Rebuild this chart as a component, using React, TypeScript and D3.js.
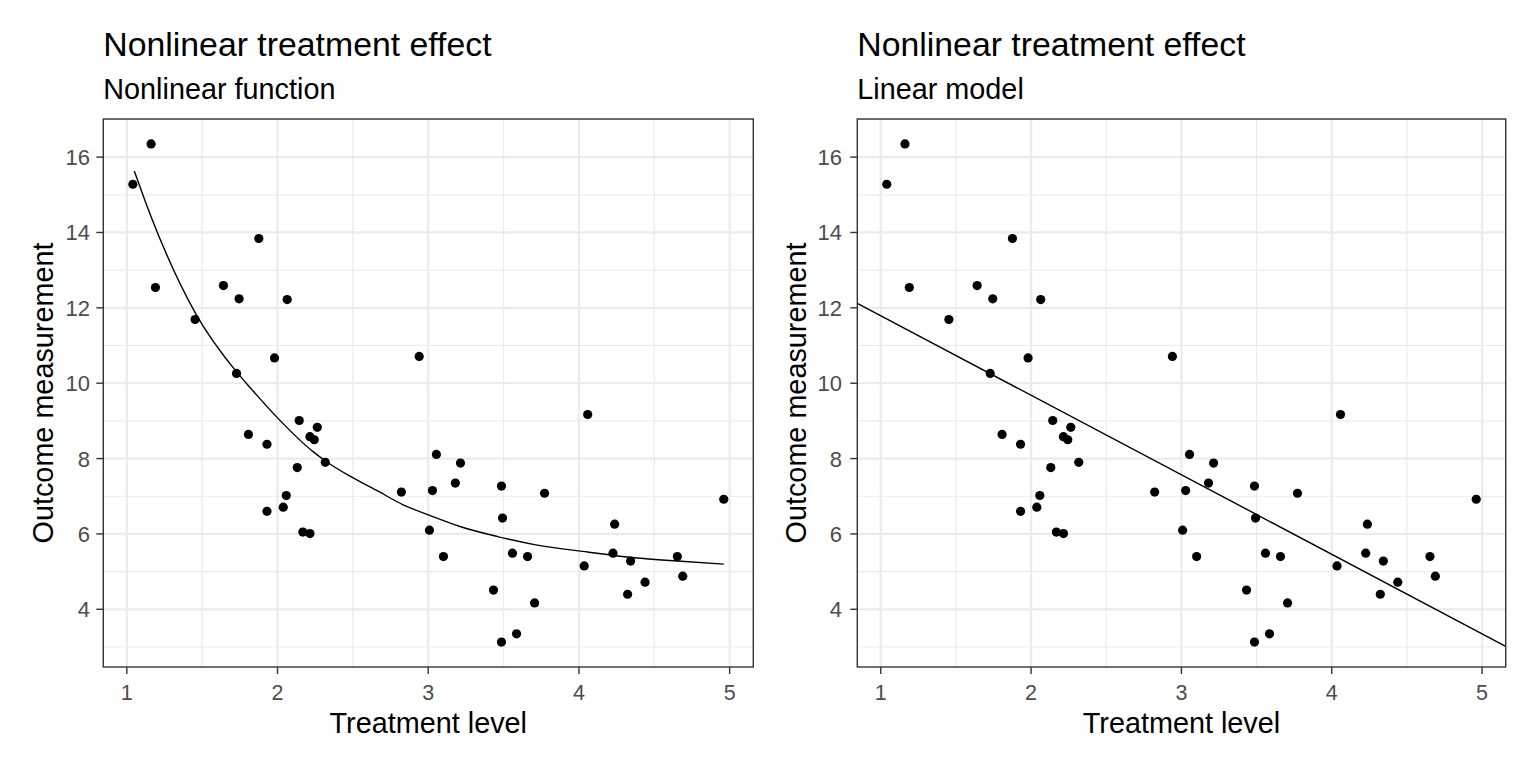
import React from "react";
import * as d3 from "d3";

// ---- Data ----
const treatment = [
  1.04, 1.161, 1.19, 1.453, 1.641, 1.728, 1.745, 1.807, 1.876, 1.93,
  1.93, 1.98, 2.038, 2.058, 2.064, 2.131, 2.144, 2.168, 2.215, 2.215,
  2.244, 2.264, 2.317, 2.822, 2.94, 3.008, 3.028, 3.054, 3.101, 3.18,
  3.214, 3.433, 3.486, 3.493, 3.486, 3.559, 3.586, 3.659, 3.706, 3.772,
  4.035, 4.058, 4.226, 4.237, 4.323, 4.343, 4.439, 4.653, 4.689, 4.961,
];
const outcome = [
  15.28, 16.35, 12.54, 11.69, 12.59, 10.26, 12.24, 8.64, 13.84, 8.38,
  6.6, 10.67, 6.71, 7.02, 12.22, 7.76, 9.01, 6.05, 6.01, 8.58,
  8.5, 8.83, 7.9, 7.11, 10.71, 6.1, 7.15, 8.11, 5.4, 7.35,
  7.88, 4.51, 7.27, 6.42, 3.13, 5.49, 3.35, 5.4, 4.17, 7.08,
  5.15, 9.17, 5.49, 6.26, 4.4, 5.28, 4.72, 5.4, 4.88, 6.92,
];

// Nonlinear fitted curve, read at several x positions
const curveX = [1.05, 1.161, 1.455, 1.728, 1.83, 2.0, 2.24, 2.32, 2.496, 2.673, 2.83, 3.005, 3.216, 3.46, 3.714, 4.058, 4.367, 4.655, 4.961];
const curveY = [15.63, 14.42, 11.86, 10.3, 9.83, 9.08, 8.17, 7.93, 7.5, 7.12, 6.78, 6.5, 6.19, 5.93, 5.71, 5.52, 5.37, 5.28, 5.2];

// Linear model coefficients
const lmIntercept = 13.9;
const lmSlope = -2.11;

const xTicks = [1, 2, 3, 4, 5];
const yTicks = [4, 6, 8, 10, 12, 14, 16];

const titles = ["Nonlinear treatment effect", "Nonlinear treatment effect"];
const subtitles = ["Nonlinear function", "Linear model"];
const xLabel = "Treatment level";
const yLabel = "Outcome measurement";

const FONT = "'Liberation Sans', Arial, Helvetica, sans-serif";

function expand(ext: [number, number], m = 0.05): [number, number] {
  const r = ext[1] - ext[0];
  return [ext[0] - r * m, ext[1] + r * m];
}

type PanelProps = {
  x0: number;
  x1: number;
  y0: number;
  y1: number;
  idx: number;
  labelEnd: number;
  yTitleX: number;
  kind: "curve" | "linear";
};

function Panel({ x0, x1, y0, y1, idx, labelEnd, yTitleX, kind }: PanelProps) {
  const xDom = expand(d3.extent(treatment) as [number, number]);
  const yDom = expand(d3.extent(outcome) as [number, number]);
  const x = d3.scaleLinear().domain(xDom).range([x0, x1]);
  const y = d3.scaleLinear().domain(yDom).range([y1, y0]);

  const xMinor = d3.range(0.5, 6, 1).filter((v) => v > xDom[0] && v < xDom[1]);
  const yMinor = d3.range(1, 19, 2).filter((v) => v > yDom[0] && v < yDom[1]);

  const clipId = `clip${idx}`;
  let pathD = "";
  if (kind === "curve") {
    const pts = curveX.map((cx, i) => [cx, curveY[i]] as [number, number]);
    pathD =
      d3
        .line<[number, number]>()
        .x((d) => x(d[0]))
        .y((d) => y(d[1]))
        .curve(d3.curveMonotoneX)(pts) || "";
  } else {
    const pts = xDom.map((v) => [v, lmIntercept + lmSlope * v] as [number, number]);
    pathD =
      d3
        .line<[number, number]>()
        .x((d) => x(d[0]))
        .y((d) => y(d[1]))(pts) || "";
  }

  const cx = (x0 + x1) / 2;
  const cy = (y0 + y1) / 2;

  return (
    <g>
      <defs>
        <clipPath id={clipId}>
          <rect x={x0} y={y0} width={x1 - x0} height={y1 - y0} />
        </clipPath>
      </defs>
      <rect x={x0} y={y0} width={x1 - x0} height={y1 - y0} fill="#FFFFFF" />
      <g clipPath={`url(#${clipId})`}>
        {xMinor.map((v) => (
          <line key={"xm" + v} x1={x(v)} x2={x(v)} y1={y0} y2={y1} stroke="#EBEBEB" strokeWidth={1.2} />
        ))}
        {yMinor.map((v) => (
          <line key={"ym" + v} x1={x0} x2={x1} y1={y(v)} y2={y(v)} stroke="#EBEBEB" strokeWidth={1.2} />
        ))}
        {xTicks.map((v) => (
          <line key={"xM" + v} x1={x(v)} x2={x(v)} y1={y0} y2={y1} stroke="#EBEBEB" strokeWidth={2.2} />
        ))}
        {yTicks.map((v) => (
          <line key={"yM" + v} x1={x0} x2={x1} y1={y(v)} y2={y(v)} stroke="#EBEBEB" strokeWidth={2.2} />
        ))}
        {treatment.map((t, i) => (
          <circle key={"p" + i} cx={x(t)} cy={y(outcome[i])} r={4.6} fill="#000000" />
        ))}
        <path d={pathD} fill="none" stroke="#000000" strokeWidth={1.4} />
      </g>
      <rect x={x0} y={y0} width={x1 - x0} height={y1 - y0} fill="none" stroke="#333333" strokeWidth={1.4} />
      {/* x ticks */}
      {xTicks.map((v) => (
        <g key={"xt" + v}>
          <line x1={x(v)} x2={x(v)} y1={y1} y2={y1 + 7} stroke="#333333" strokeWidth={1.4} />
          <text x={x(v)} y={y1 + 33} textAnchor="middle" fontFamily={FONT} fontSize={21.5} fill="#4D4D4D">
            {v}
          </text>
        </g>
      ))}
      {/* y ticks */}
      {yTicks.map((v) => (
        <g key={"yt" + v}>
          <line x1={x0 - 7} x2={x0} y1={y(v)} y2={y(v)} stroke="#333333" strokeWidth={1.4} />
          <text x={labelEnd} y={y(v) + 8} textAnchor="end" fontFamily={FONT} fontSize={22} fill="#4D4D4D">
            {v}
          </text>
        </g>
      ))}
      {/* axis titles */}
      <text x={cx} y={733} textAnchor="middle" fontFamily={FONT} fontSize={28.8} fill="#000000">
        {xLabel}
      </text>
      <text
        transform={`translate(${yTitleX},${cy}) rotate(-90)`}
        textAnchor="middle"
        fontFamily={FONT}
        fontSize={28.8}
        fill="#000000"
      >
        {yLabel}
      </text>
      {/* titles */}
      <text x={x0} y={56} fontFamily={FONT} fontSize={33.8} fill="#000000">
        {titles[idx]}
      </text>
      <text x={x0} y={98.5} fontFamily={FONT} fontSize={28.8} fill="#000000">
        {subtitles[idx]}
      </text>
    </g>
  );
}

export default function App() {
  return (
    <svg
      width={1536}
      height={768}
      viewBox="0 0 1536 768"
      style={{ position: "absolute", left: 0, top: 0, background: "#FFFFFF" }}
    >
      <rect x={0} y={0} width={1536} height={768} fill="#FFFFFF" />
      <Panel x0={103.3} x1={753.3} y0={119} y1={667} idx={0} labelEnd={90} yTitleX={53} kind="curve" />
      <Panel x0={857.3} x1={1505.7} y0={119} y1={667} idx={1} labelEnd={842} yTitleX={806} kind="linear" />
    </svg>
  );
}
